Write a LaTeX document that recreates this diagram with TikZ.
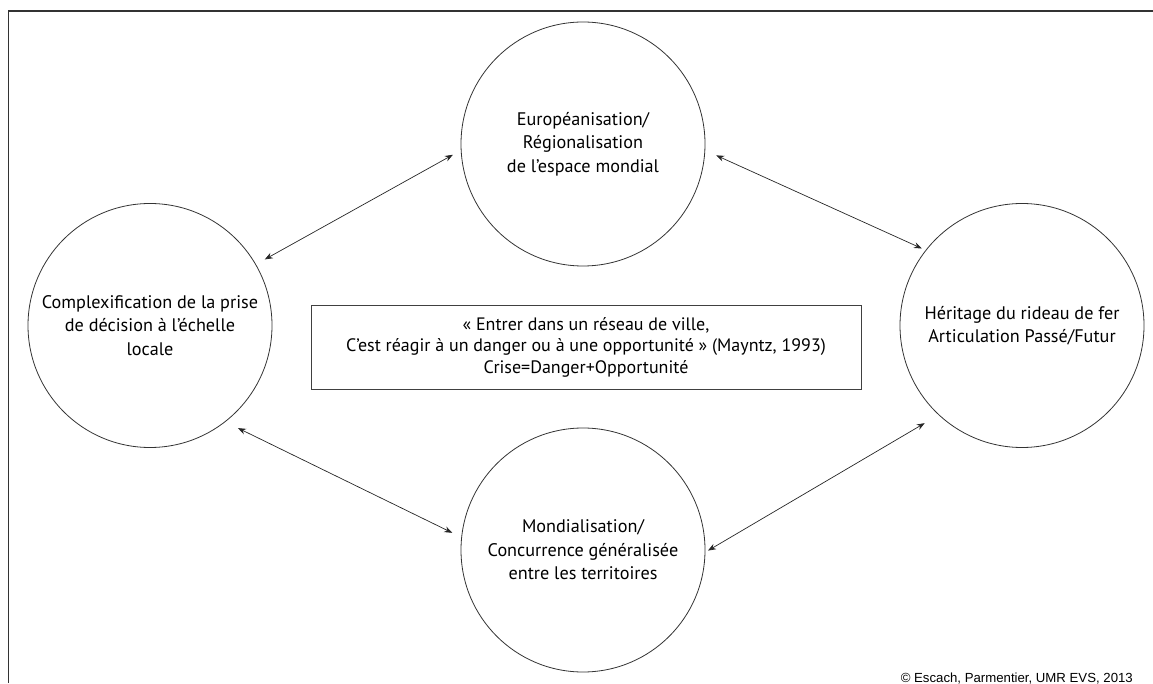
\documentclass[tikz,border=0pt]{standalone}
\usepackage{fontspec}
\setmainfont{PT Sans}
\newfontfamily\creditfont{Liberation Sans}
\usepackage{tikz}
\usetikzlibrary{arrows.meta}

\begin{document}
\begin{tikzpicture}[
        x=1pt,y=1pt,
        theme/.style={circle,draw=black!80,line width=0.8pt,minimum size=244pt,
                      inner sep=0pt,align=center,font=\fontsize{18.2}{23.5}\selectfont},
        quotebox/.style={draw=black!75,line width=0.8pt,minimum width=550pt,minimum height=84pt,
                      inner sep=0pt,align=center,font=\fontsize{18}{21.5}\selectfont},
        link/.style={line width=0.7pt,draw=black!85,{Stealth[length=8pt,width=6pt]}-{Stealth[length=8pt,width=6pt]}},
        frameline/.style={line width=1.3pt,draw=black!80},
      ]
      \useasboundingbox (0,0) rectangle (1153,683);
      % frame (cut at right and bottom)
      \draw[frameline] (8.5,0) -- (8.5,672) -- (1153,672);
      % the four themes
      \node[theme] (europe) at (583,539) {Européanisation/\\Régionalisation\\de l’espace mondial};
      \node[theme] (local) at (150,357.5) {Complexification de la prise\\de décision à l’échelle\\locale};
      \node[theme] (rideau) at (1022,357.5) {Héritage du rideau de fer\\Articulation Passé/Futur};
      \node[theme] (monde) at (583,133) {Mondialisation/\\Concurrence généralisée\\entre les territoires};
      % central quotation
      \node[quotebox] (crise) at (586,336) {« Entrer dans un réseau de ville,\\C’est réagir à un danger ou à une opportunité » (Mayntz, 1993)\\Crise=Danger+Opportunité};
      % links
      \draw[link,shorten <=10pt,shorten >=9pt] (local.30) -- (europe.183);
      \draw[link,shorten <=12pt,shorten >=4pt] (europe.-3) -- (rideau.142);
      \draw[link,shorten <=14pt,shorten >=10pt] (local.-52) -- (monde.174);
      \draw[link,shorten <=3pt,shorten >=16pt] (monde.-1) -- (rideau.227);
      % credits
      \node[anchor=base east,inner sep=0pt,font=\creditfont\fontsize{13.2}{15}\selectfont] (credit) at (1133,1) {© Escach, Parmentier, UMR EVS, 2013};
\end{tikzpicture}
\end{document}
